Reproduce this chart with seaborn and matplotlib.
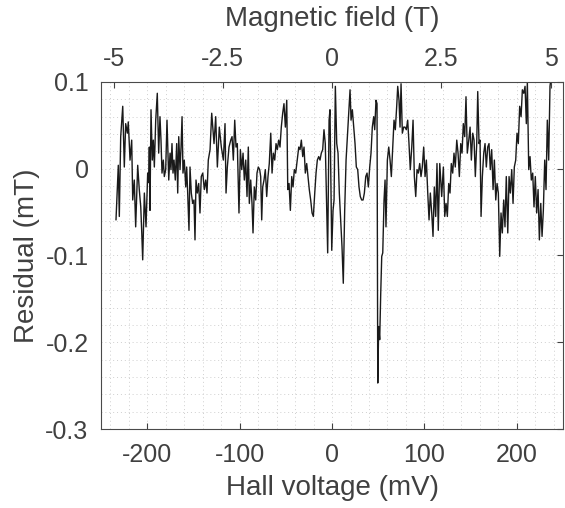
import numpy as np
import pandas as pd
import seaborn as sns
import matplotlib.pyplot as plt
from matplotlib.ticker import MultipleLocator

# Hall voltage (mV) and fit residual (mT)
hall_mv = [
    -233.8, -231.3, -230.2, -228.7, -226.5, -224.8, -223.3, -221.5, -220.5, -218.6,
    -216.8, -215.7, -214.0, -212.5, -210.3, -208.6, -207.0, -206.0, -204.9, -203.1,
    -201.3, -199.5, -198.4, -197.7, -197.0, -195.9, -194.5, -193.4, -192.3, -190.8,
    -189.1, -187.6, -186.2, -185.1, -184.0, -182.6, -181.5, -180.0, -178.6, -176.7,
    -175.3, -174.3, -173.2, -172.1, -171.0, -169.6, -168.1, -167.0, -165.9, -164.5,
    -163.4, -162.3, -161.3, -159.9, -158.3, -157.3, -156.2, -154.8, -153.7, -152.3,
    -150.8, -149.4, -148.3, -147.2, -145.8, -144.3, -142.9, -141.5, -139.9, -138.2,
    -136.7, -135.3, -133.9, -132.0, -130.2, -127.7, -125.9, -124.1, -122.0, -119.8,
    -117.6, -115.8, -114.7, -113.3, -111.5, -109.6, -108.2, -106.8, -105.3, -103.9,
    -102.5, -100.7, -99.2, -97.7, -96.3, -94.9, -93.4, -92.0, -90.6, -89.5,
    -88.0, -86.6, -85.5, -84.1, -82.6, -81.2, -79.8, -78.3, -77.2, -76.1,
    -75.0, -73.6, -72.2, -70.7, -69.3, -67.9, -66.3, -64.9, -63.5, -62.0,
    -60.6, -59.2, -57.7, -56.3, -54.9, -53.4, -52.0, -50.5, -49.0, -47.9,
    -46.5, -45.1, -43.6, -42.2, -40.8, -39.3, -37.6, -36.0, -34.6, -33.2,
    -31.7, -30.3, -28.9, -27.4, -26.0, -24.6, -23.1, -21.6, -20.2, -18.7,
    -17.3, -15.9, -14.4, -13.0, -11.6, -10.1, -8.7, -7.3, -5.7, -4.7,
    -3.2, -2.2, -0.3, 1.1, 2.2, 3.6, 5.1, 6.5, 7.9, 9.4,
    10.8, 12.2, 13.7, 15.2, 16.6, 18.1, 19.5, 20.6, 22.0, 23.5,
    24.9, 26.3, 27.8, 29.2, 30.6, 32.1, 33.6, 35.0, 36.5, 37.9,
    39.3, 40.8, 42.2, 43.6, 45.1, 46.2, 47.6, 48.7, 49.5, 50.5,
    51.6, 52.7, 53.8, 54.9, 56.3, 57.4, 58.4, 59.9, 61.4, 62.8,
    64.2, 65.7, 67.1, 68.5, 70.0, 71.1, 72.5, 73.6, 74.7, 76.1,
    77.6, 79.0, 80.4, 81.9, 83.3, 84.7, 86.3, 87.7, 89.1, 90.6,
    92.0, 93.4, 94.9, 96.3, 97.7, 99.2, 100.7, 102.1, 103.6, 105.0,
    106.4, 107.9, 109.3, 110.7, 112.2, 113.6, 115.0, 116.6, 118.7, 120.5,
    122.0, 123.4, 124.8, 126.3, 127.7, 129.1, 130.6, 132.0, 133.4, 135.0,
    136.4, 137.8, 139.3, 140.7, 142.1, 143.6, 145.0, 146.4, 148.0, 149.4,
    150.8, 152.3, 153.7, 155.1, 156.6, 157.7, 159.1, 160.2, 161.3, 162.7,
    164.2, 165.6, 167.0, 168.5, 169.9, 171.3, 172.8, 174.3, 175.7, 177.2,
    178.6, 180.0, 181.5, 182.9, 184.3, 185.8, 187.2, 188.6, 190.2, 191.6,
    193.0, 194.5, 195.9, 197.3, 198.8, 200.2, 201.6, 203.1, 204.6, 206.0,
    207.5, 208.9, 210.3, 211.4, 212.9, 214.3, 215.7, 217.2, 218.6, 220.0,
    221.5, 223.0, 224.4, 225.9, 227.3, 228.7, 230.2, 231.6, 233.0, 234.5,
    235.9, 236.7,
]
residual_mt = [
    -0.059, 0.004, -0.055, 0.037, 0.072, 0.002, 0.052, 0.041, 0.054, 0.010,
    0.033, -0.036, -0.013, -0.067, 0.004, -0.024, -0.044, -0.071, -0.105, -0.028,
    -0.067, -0.005, -0.016, 0.025, -0.048, 0.068, 0.010, 0.033, 0.002, 0.056,
    0.087, 0.018, 0.060, 0.033, -0.005, 0.010, -0.009, -0.001, 0.056, -0.013,
    0.018, -0.001, 0.029, -0.005, 0.010, -0.013, 0.029, -0.028, 0.037, -0.001,
    0.025, 0.060, -0.005, 0.010, -0.021, 0.002, -0.028, -0.071, 0.002, -0.028,
    -0.040, -0.036, -0.082, -0.013, -0.028, -0.017, -0.051, -0.009, -0.005, -0.024,
    -0.013, -0.028, 0.010, 0.022, 0.064, 0.029, 0.060, 0.002, 0.048, 0.025,
    0.010, 0.052, -0.028, 0.002, 0.025, 0.033, 0.037, 0.010, 0.056, 0.025,
    0.029, -0.051, 0.022, -0.001, 0.018, -0.013, 0.010, -0.032, 0.025, -0.040,
    -0.013, -0.040, -0.074, -0.021, -0.036, -0.005, 0.002, -0.001, -0.009, -0.059,
    -0.021, -0.013, -0.001, -0.032, -0.009, 0.006, 0.041, -0.005, 0.018, 0.010,
    0.029, 0.022, 0.033, 0.025, 0.048, 0.064, 0.075, 0.048, 0.079, -0.024,
    -0.017, -0.048, -0.009, -0.021, -0.001, -0.005, 0.010, 0.025, 0.022, 0.033,
    0.014, 0.025, -0.005, 0.006, -0.009, -0.024, -0.036, -0.051, -0.055, -0.028,
    -0.005, 0.010, 0.014, 0.010, 0.018, 0.022, 0.045, 0.029, -0.051, -0.097,
    0.056, 0.068, -0.094, -0.048, -0.036, 0.095, 0.029, 0.018, -0.028, -0.059,
    -0.090, -0.132, -0.048, 0.010, 0.037, 0.068, 0.091, 0.056, 0.068, 0.048,
    0.029, 0.002, -0.001, -0.021, -0.032, -0.036, -0.036, -0.028, -0.009, -0.005,
    -0.021, 0.002, 0.018, 0.048, 0.060, 0.045, 0.079, 0.075, -0.247, -0.182,
    -0.197, -0.144, -0.101, -0.097, -0.036, -0.013, -0.067, 0.010, 0.025, 0.010,
    -0.009, 0.025, 0.056, 0.045, 0.072, 0.095, 0.079, 0.048, 0.098, 0.041,
    0.048, 0.048, 0.045, 0.056, 0.029, -0.001, 0.025, 0.056, -0.009, -0.032,
    -0.001, -0.005, 0.006, -0.009, 0.002, 0.025, -0.009, 0.010, -0.028, -0.059,
    -0.028, -0.051, -0.078, -0.021, -0.055, 0.006, -0.071, 0.006, -0.032, 0.002,
    -0.055, -0.040, -0.055, -0.017, -0.028, 0.006, -0.005, 0.018, 0.002, 0.033,
    0.018, -0.009, 0.029, 0.018, 0.052, 0.037, 0.083, 0.018, 0.033, 0.048,
    0.010, 0.041, 0.033, -0.009, 0.029, 0.089, 0.029, 0.033, -0.055, -0.009,
    0.018, 0.029, 0.002, 0.025, 0.029, -0.001, 0.022, -0.024, 0.010, -0.036,
    -0.017, -0.028, -0.101, -0.051, -0.074, -0.036, -0.067, -0.009, -0.074, -0.009,
    -0.028, -0.001, -0.040, 0.002, 0.010, 0.041, 0.029, 0.072, 0.060, 0.091,
    0.087, 0.095, 0.052, 0.100, -0.001, 0.014, -0.013, -0.005, -0.044, -0.009,
    -0.051, -0.024, -0.082, -0.040, -0.078, -0.048, 0.010, -0.024, 0.056, 0.010,
    0.095, 0.102,
]

# top axis: magnetic field equivalent
field_ticks = [-5, -2.5, 0, 2.5, 5]
field_labels = ["-5", "-2.5", "0", "2.5", "5"]
field_lim = 5.286

df = pd.DataFrame({"hall": hall_mv, "res": residual_mt})

sns.set_style("white")
plt.rcParams["font.family"] = ["Liberation Sans", "DejaVu Sans"]
plt.rcParams["axes.unicode_minus"] = False

txt = "#404040"
fig = plt.figure(figsize=(5.65, 5.08), dpi=100)
ax = fig.add_axes([0.1788, 0.1555, 0.8177, 0.6831])

sns.lineplot(data=df, x="hall", y="res", sort=False, estimator=None,
             color="#1a1a1a", linewidth=1.0, ax=ax)

ax.set_xlim(-250, 250)
ax.set_ylim(-0.3, 0.1)
ax.set_xticks([-200, -100, 0, 100, 200])
ax.set_yticks([-0.3, -0.2, -0.1, 0, 0.1])
ax.set_yticklabels(["-0.3", "-0.2", "-0.1", "0", "0.1"])
ax.xaxis.set_minor_locator(MultipleLocator(20))
ax.yaxis.set_minor_locator(MultipleLocator(0.02))
ax.grid(True, which="both", linestyle=(0, (1, 3)), color="#cfcfcf", linewidth=0.7)
ax.tick_params(which="major", direction="in", length=4, width=0.8,
               top=True, right=True, labelsize=18, colors=txt)
ax.tick_params(axis="x", which="major", pad=10)
ax.tick_params(axis="y", which="major", pad=9)
ax.tick_params(which="minor", length=0)
for s in ax.spines.values():
    s.set_color("#4a4a4a")
    s.set_linewidth(0.8)
ax.set_xlabel("Hall voltage (mV)", fontsize=20, color=txt, labelpad=6)
ax.set_ylabel("Residual (mT)", fontsize=20, color=txt, labelpad=4)

top = ax.twiny()
top.set_xlim(-field_lim, field_lim)
top.set_xticks(field_ticks)
top.set_xticklabels(field_labels)
top.tick_params(direction="in", length=4, width=0.8, labelsize=18,
                colors=txt, pad=8)
top.grid(False)
for s in top.spines.values():
    s.set_visible(False)
top.set_xlabel("Magnetic field (T)", fontsize=20, color=txt, labelpad=15)

fig.savefig("out.png", dpi=100)
